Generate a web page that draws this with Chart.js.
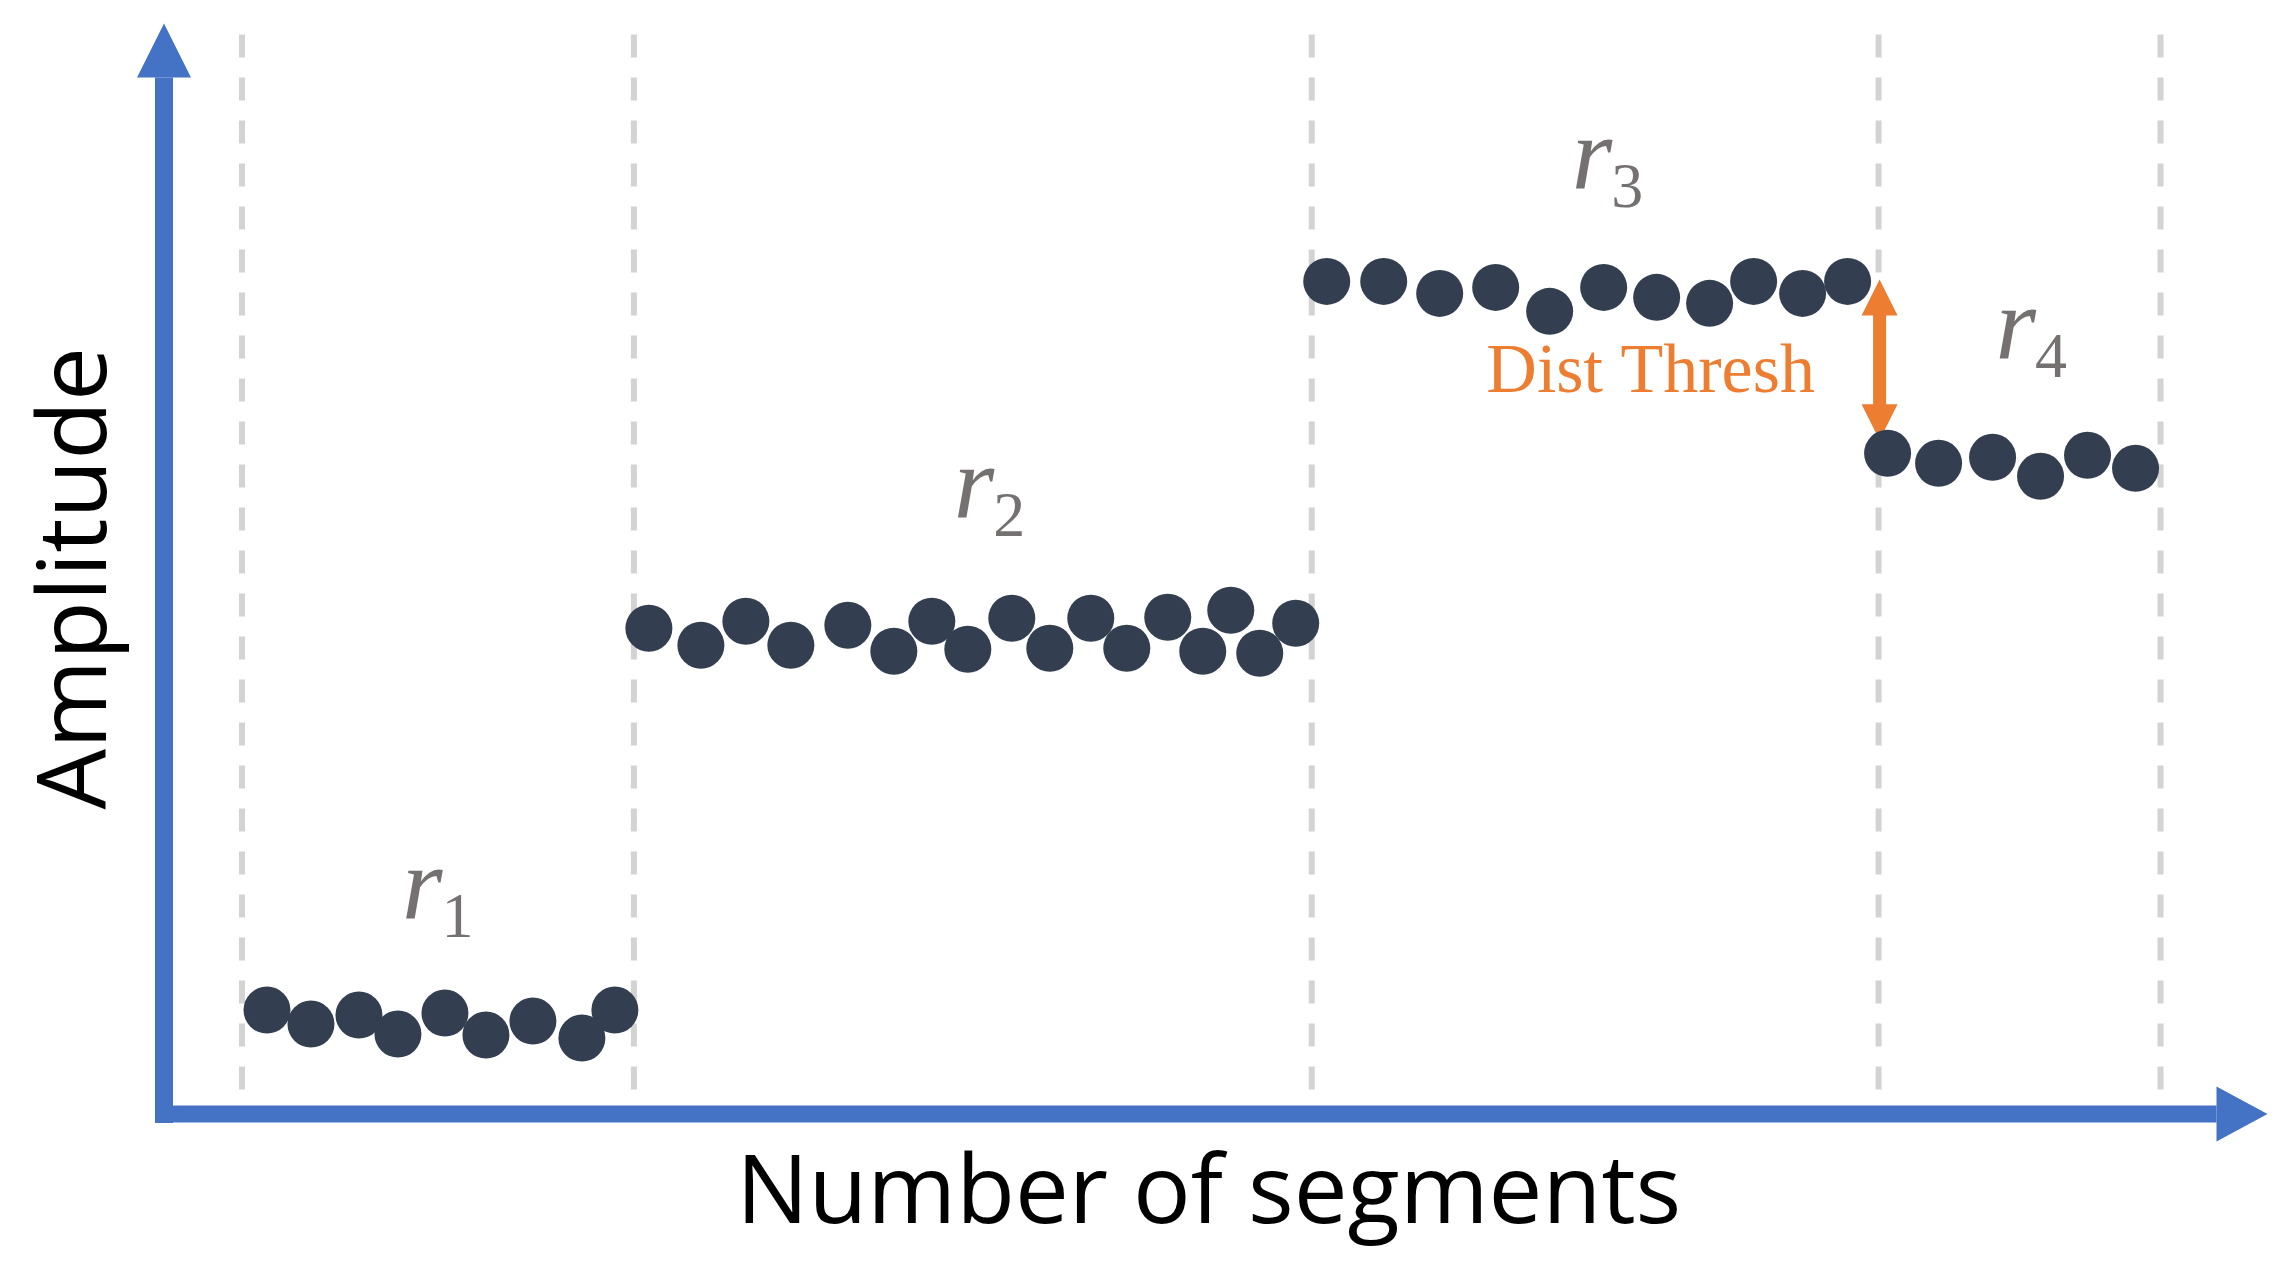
<!DOCTYPE html>
<html><head><meta charset="utf-8">
<script src="https://cdn.jsdelivr.net/npm/chart.js@4/dist/chart.umd.min.js"></script>
<style>html,body{margin:0;padding:0;background:#fff;overflow:hidden}canvas{display:block}</style>
</head><body>
<canvas id="c" width="2291" height="1270"></canvas>
<script>
// ---- Data (x: position along "Number of segments", y: "Amplitude") ----
const regionLabels = ['1', '2', '3', '4'];
const r1X = [10.3, 14.7, 19.5, 23.4, 28.1, 32.2, 36.9, 41.8, 45.1];
const r1Y = [10.4, 9.0, 9.9, 8.0, 10.1, 7.9, 9.3, 7.6, 10.4];
const r2X = [48.5, 53.7, 58.2, 62.7, 68.4, 73.0, 76.8, 80.4, 84.8, 88.6, 92.7, 96.3, 100.4, 103.9, 106.7, 109.6, 113.2];
const r2Y = [48.6, 46.9, 49.3, 46.9, 48.9, 46.3, 49.3, 46.5, 49.6, 46.6, 49.6, 46.6, 49.7, 46.3, 50.4, 46.1, 49.1];
const r3X = [116.3, 122.0, 127.6, 133.2, 138.6, 144.0, 149.3, 154.6, 159.0, 163.9, 168.4];
const r3Y = [83.3, 83.3, 82.1, 82.7, 80.3, 82.7, 81.7, 81.1, 83.3, 82.1, 83.3];
const r4X = [172.4, 177.5, 182.9, 187.7, 192.4, 197.2];
const r4Y = [66.1, 65.1, 65.7, 63.8, 65.9, 64.6];
const boundaries = [7.8, 47.0, 114.8, 171.5, 199.7];
const distThreshTop = 83.5, distThreshBottom = 67.4;

const seriesX = [r1X, r2X, r3X, r4X];
const seriesY = [r1Y, r2Y, r3Y, r4Y];

// label anchors (data units): left of "r" and its baseline
const labelAnchors = [[23.8, 19.5], [79.0, 59.6], [140.8, 92.5], [183.2, 75.5]];

const datasets = seriesX.map((xs, i) => ({
  label: 'r' + regionLabels[i],
  data: xs.map((v, j) => ({x: v, y: seriesY[i][j]})),
  backgroundColor: '#333F50',
  borderWidth: 0,
  pointRadius: 23.5,
  pointHoverRadius: 23.5,
  clip: false
}));

const BLUE = '#4472C4', ORANGE = '#ED7D31', GREY = '#767171';

const overlay = {
  id: 'overlay',
  beforeDatasetsDraw(chart) {
    const {ctx, scales: {x, y}} = chart;
    ctx.save();
    // dashed region boundaries
    ctx.strokeStyle = '#D3D3D3';
    ctx.lineWidth = 6;
    ctx.setLineDash([23, 20]);
    boundaries.forEach(b => {
      const px = x.getPixelForValue(b);
      ctx.beginPath();
      ctx.moveTo(px, y.getPixelForValue(108.0));
      ctx.lineTo(px, y.getPixelForValue(1.4));
      ctx.stroke();
    });
    ctx.setLineDash([]);

    // axes with arrows
    const x0 = x.getPixelForValue(0), y0 = y.getPixelForValue(0);
    const xt = x.getPixelForValue(x.max), yt = y.getPixelForValue(y.max);
    ctx.fillStyle = BLUE;
    ctx.fillRect(x0 - 9, yt + 54, 18, (y0 + 9) - (yt + 54));
    ctx.beginPath();
    ctx.moveTo(x0, yt); ctx.lineTo(x0 - 27, yt + 54); ctx.lineTo(x0 + 27, yt + 54);
    ctx.closePath(); ctx.fill();
    ctx.fillRect(x0 - 9, y0 - 8.5, (xt - 51) - (x0 - 9), 17);
    ctx.beginPath();
    ctx.moveTo(xt, y0); ctx.lineTo(xt - 51, y0 - 27.5); ctx.lineTo(xt - 51, y0 + 27.5);
    ctx.closePath(); ctx.fill();

    // Dist Thresh double arrow
    const ax = x.getPixelForValue(boundaries[3]) + 1;
    const at = y.getPixelForValue(distThreshTop), ab = y.getPixelForValue(distThreshBottom);
    ctx.fillStyle = ORANGE;
    ctx.fillRect(ax - 6.5, at + 35, 13, (ab - 35) - (at + 35));
    ctx.beginPath();
    ctx.moveTo(ax, at); ctx.lineTo(ax - 18, at + 36); ctx.lineTo(ax + 18, at + 36); ctx.closePath(); ctx.fill();
    ctx.beginPath();
    ctx.moveTo(ax, ab); ctx.lineTo(ax - 18, ab - 36); ctx.lineTo(ax + 18, ab - 36); ctx.closePath(); ctx.fill();
    ctx.restore();
  },
  afterDatasetsDraw(chart) {
    const {ctx, scales: {x, y}} = chart;
    ctx.save();
    // region labels r_k
    ctx.fillStyle = GREY;
    ctx.textBaseline = 'alphabetic';
    ctx.textAlign = 'left';
    labelAnchors.forEach((a, i) => {
      const px = x.getPixelForValue(a[0]), py = y.getPixelForValue(a[1]);
      ctx.font = 'italic 104px "Liberation Serif"';
      ctx.fillText('r', px, py);
      const w = ctx.measureText('r').width;
      ctx.font = '64px "Liberation Serif"';
      ctx.fillText(regionLabels[i], px + w - 1, py + 18);
    });
    // Dist Thresh text
    ctx.fillStyle = ORANGE;
    ctx.font = '70px "Liberation Serif"';
    ctx.textAlign = 'center';
    ctx.fillText('Dist Thresh', x.getPixelForValue(148.7), y.getPixelForValue(72.2));

    // axis titles
    ctx.fillStyle = '#000';
    ctx.font = '96px "Open Sans"';
    ctx.textAlign = 'center';
    ctx.fillText('Number of segments', x.getPixelForValue(104.5), y.getPixelForValue(0) + 109);
    ctx.translate(x.getPixelForValue(0) - 58, y.getPixelForValue(53.6));
    ctx.rotate(-Math.PI / 2);
    ctx.fillText('Amplitude', 0, 0);
    ctx.restore();
  }
};

new Chart(document.getElementById('c'), {
  type: 'scatter',
  data: {datasets},
  options: {
    responsive: false,
    devicePixelRatio: 1,
    animation: false,
    layout: {padding: {left: 164, right: 23, top: 23, bottom: 156}},
    plugins: {legend: {display: false}, tooltip: {enabled: false}},
    events: [],
    scales: {
      x: {type: 'linear', min: 0, max: 210.4, display: false},
      y: {type: 'linear', min: 0, max: 109.1, display: false}
    }
  },
  plugins: [overlay]
});
</script>
</body></html>
